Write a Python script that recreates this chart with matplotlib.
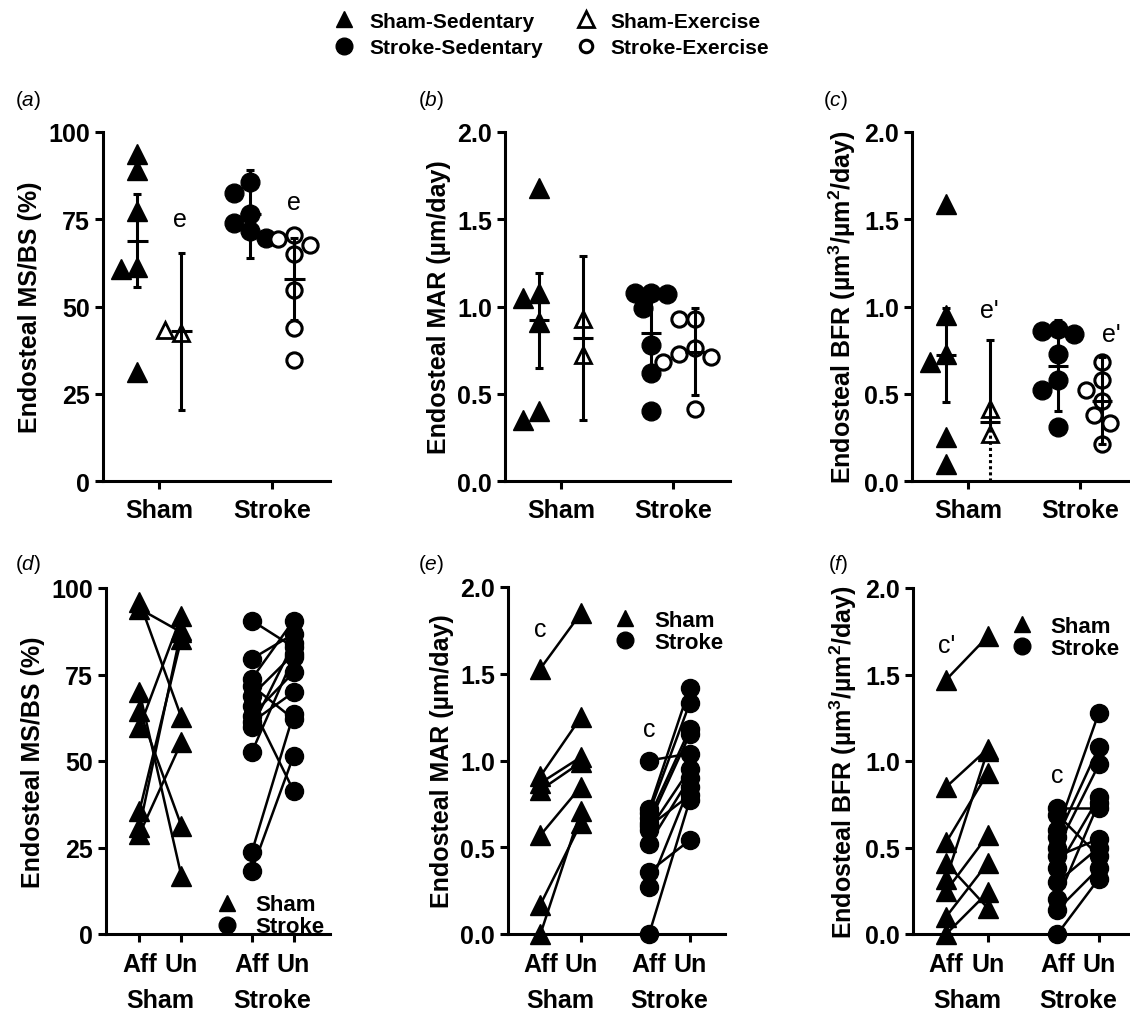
import matplotlib
matplotlib.use('Agg')
import matplotlib.pyplot as plt
from matplotlib.lines import Line2D
from matplotlib.font_manager import FontProperties
import numpy as np

plt.rcParams['font.family'] = ['Liberation Sans', 'DejaVu Sans']
plt.rcParams['mathtext.fontset'] = 'custom'
plt.rcParams['mathtext.rm'] = 'Liberation Sans'
plt.rcParams['mathtext.it'] = 'Liberation Sans:italic'
plt.rcParams['mathtext.bf'] = 'Liberation Sans:bold'
plt.rcParams['mathtext.default'] = 'regular'

# ---------------- data ----------------
group_labels = ['Sham', 'Stroke']
side_labels = ['Aff', 'Un', 'Aff', 'Un']
legend_labels = ['Sham-Sedentary', 'Stroke-Sedentary', 'Sham-Exercise', 'Stroke-Exercise']

# (a) Endosteal MS/BS (%)
a_sham_sed = [93.8, 89.0, 77.5, 61.2, 60.8, 31.1]
a_sham_ex = [42.5, 43.3]
a_stroke_sed = [85.8, 82.6, 76.5, 74.0, 71.5, 69.5]
a_stroke_ex = [70.6, 69.2, 67.5, 64.9, 54.7, 43.7, 34.7]
a_means = [68.9, 42.9, 76.4, 57.9]      # sham-sed, sham-ex, stroke-sed, stroke-ex
a_errs = [13.2, 22.5, 12.6, 11.7]

# (b) Endosteal MAR (um/day)
b_sham_sed = [1.68, 1.08, 1.05, 0.91, 0.40, 0.35]
b_sham_ex = [0.93, 0.72]
b_stroke_sed = [1.08, 1.08, 1.07, 0.99, 0.78, 0.62, 0.40]
b_stroke_ex = [0.93, 0.93, 0.76, 0.73, 0.71, 0.68, 0.41]
b_means = [0.92, 0.82, 0.85, 0.74]
b_errs = [0.27, 0.47, 0.25, 0.25]

# (c) Endosteal BFR
c_sham_sed = [1.59, 0.95, 0.73, 0.68, 0.25, 0.10]
c_sham_ex = [0.27, 0.41]
c_stroke_sed = [0.87, 0.86, 0.84, 0.73, 0.58, 0.52, 0.31]
c_stroke_ex = [0.68, 0.58, 0.52, 0.46, 0.38, 0.33, 0.21]
c_means = [0.72, 0.34, 0.66, 0.46]
c_errs = [0.27, 0.47, 0.26, 0.25]

# (d) MS/BS paired, affected vs unaffected
d_sham_aff = [96.0, 94.0, 70.0, 64.5, 59.7, 35.6, 30.8, 28.9]
d_sham_un = [62.6, 87.2, 16.8, 31.3, 92.0, 85.3, 88.0, 55.4]
d_stroke_aff = [90.6, 79.5, 73.7, 71.8, 68.9, 66.0, 63.1, 61.2, 59.7, 52.5, 23.6, 18.3]
d_stroke_un = [82.9, 86.7, 90.6, 62.1, 80.9, 41.4, 75.6, 69.9, 84.0, 80.0, 63.6, 51.5]

# (e) MAR paired
e_sham_aff = [1.53, 0.91, 0.87, 0.83, 0.57, 0.17, 0.00]
e_sham_un = [1.85, 1.25, 1.02, 0.99, 0.85, 0.64, 0.71]
e_stroke_aff = [1.00, 0.72, 0.70, 0.67, 0.64, 0.62, 0.60, 0.52, 0.36, 0.27, 0.00]
e_stroke_un = [1.04, 1.42, 1.33, 1.18, 1.15, 0.80, 0.95, 0.90, 0.54, 0.85, 0.77]

# (f) BFR paired
f_sham_aff = [1.47, 0.85, 0.53, 0.41, 0.32, 0.25, 0.10, 0.00]
f_sham_un = [1.72, 1.07, 0.93, 0.15, 1.06, 0.57, 0.41, 0.24]
f_stroke_aff = [0.73, 0.69, 0.60, 0.56, 0.50, 0.45, 0.38, 0.30, 0.20, 0.14, 0.00]
f_stroke_un = [0.73, 0.45, 1.28, 1.08, 0.98, 0.55, 0.79, 0.50, 0.76, 0.38, 0.32]

# ---------------- layout ----------------
W, H = 1130, 1012
fig = plt.figure(figsize=(W / 100, H / 100), dpi=100)

def add_ax(l, r, t, b):
    return fig.add_axes([l / W, 1 - b / H, (r - l) / W, (b - t) / H])

LW = 2.2
TICKFS = 18
LABFS = 18

def style_axes(ax):
    for s in ['top', 'right']:
        ax.spines[s].set_visible(False)
    for s in ['left', 'bottom']:
        ax.spines[s].set_linewidth(LW)
    ax.tick_params(width=LW, length=6, labelsize=TICKFS, direction='out')
    for lab in ax.get_xticklabels() + ax.get_yticklabels():
        lab.set_fontweight('bold')

def swarm(vals, center, ppu_y, ppu_x, diam=16.0, step=8.0):
    placed = []
    xs = []
    cands = [0.0]
    for i in range(1, 8):
        cands += [-i * step, i * step]
    for v in vals:
        y = v * ppu_y
        chosen = cands[-1]
        for c in cands:
            if all((c - px) ** 2 + (y - py) ** 2 >= diam ** 2 for px, py in placed):
                chosen = c
                break
        placed.append((chosen, y))
        xs.append(center + chosen / ppu_x)
    return xs

def errbar(ax, x, m, e, ymin, half=0.09, cap=0.035):
    kw = dict(color='black', lw=LW, zorder=5, clip_on=False, solid_capstyle='butt')
    ax.plot([x - half, x + half], [m, m], **kw)
    ax.plot([x, x], [m, m + e], **kw)
    ax.plot([x - cap, x + cap], [m + e, m + e], **kw)
    lo = m - e
    if lo < ymin:
        ax.plot([x, x], [ymin, m], color='black', lw=LW, ls=(0, (1, 1)), zorder=5, clip_on=False)
    else:
        ax.plot([x, x], [lo, m], **kw)
        ax.plot([x - cap, x + cap], [lo, lo], **kw)

def top_panel(ax, sham_sed, sham_ex, stroke_sed, stroke_ex, means, errs, ymax, yticks, ytl, ylabel, axh_px, axw_px):
    ax.set_xlim(0.5, 2.51)
    ax.set_ylim(0, ymax)
    ppu_y = axh_px / ymax
    ppu_x = axw_px / 2.01
    off = 0.195
    sets = [(sham_sed, 1 - off, '^', 'black', 14, 1.0),
            (sham_ex, 1 + off, '^', 'white', 12, 2.0),
            (stroke_sed, 2 - off, 'o', 'black', 13.5, 1.0),
            (stroke_ex, 2 + off, 'o', 'white', 11, 2.2)]
    for (vals, cx, mk, fc, ms, mew), m, e in zip(sets, means, errs):
        xs = swarm(vals, cx, ppu_y, ppu_x)
        ax.plot(xs, vals, ls='none', marker=mk, ms=ms, mfc=fc, mec='black', mew=mew,
                clip_on=False, zorder=3)
        errbar(ax, cx, m, e, 0)
    ax.set_xticks([1, 2])
    ax.set_xticklabels(group_labels)
    ax.set_yticks(yticks)
    ax.set_yticklabels(ytl)
    ax.set_ylabel(ylabel, fontsize=LABFS, fontweight='bold', labelpad=4)
    style_axes(ax)
    ax.tick_params(axis='x', pad=6)

pos4 = [1.0, 2.0, 3.68, 4.68]

def bottom_panel(ax, sham_aff, sham_un, stroke_aff, stroke_un, ymax, yticks, ytl, ylabel):
    ax.set_xlim(0.2, 5.55)
    ax.set_ylim(0, ymax)
    for a, u in zip(sham_aff, sham_un):
        ax.plot([pos4[0], pos4[1]], [a, u], color='black', lw=1.8, zorder=2, clip_on=False)
    for a, u in zip(stroke_aff, stroke_un):
        ax.plot([pos4[2], pos4[3]], [a, u], color='black', lw=1.8, zorder=2, clip_on=False)
    ax.plot([pos4[0]] * len(sham_aff), sham_aff, ls='none', marker='^', ms=14, color='black', clip_on=False, zorder=3)
    ax.plot([pos4[1]] * len(sham_un), sham_un, ls='none', marker='^', ms=14, color='black', clip_on=False, zorder=3)
    ax.plot([pos4[2]] * len(stroke_aff), stroke_aff, ls='none', marker='o', ms=13, color='black', clip_on=False, zorder=3)
    ax.plot([pos4[3]] * len(stroke_un), stroke_un, ls='none', marker='o', ms=13, color='black', clip_on=False, zorder=3)
    ax.set_xticks(pos4)
    ax.set_xticklabels(side_labels)
    ax.set_yticks(yticks)
    ax.set_yticklabels(ytl)
    ax.set_ylabel(ylabel, fontsize=LABFS, fontweight='bold', labelpad=4)
    style_axes(ax)
    ax.tick_params(axis='x', pad=7)
    for gx, lab in zip([(pos4[0] + pos4[1]) / 2, (pos4[2] + pos4[3]) / 2], group_labels):
        ax.text(gx, -0.19, lab, transform=ax.get_xaxis_transform(), ha='center', va='center',
                fontsize=TICKFS, fontweight='bold')

def small_legend(ax, anchor, loc):
    h = [Line2D([], [], ls='none', marker='^', ms=12, color='black'),
         Line2D([], [], ls='none', marker='o', ms=12, color='black')]
    ax.legend(h, group_labels, loc=loc, bbox_to_anchor=anchor, frameon=False,
              prop=FontProperties(family='Liberation Sans', weight='bold', size=16),
              handlelength=0.8, handletextpad=0.9, labelspacing=0.05, borderpad=0, borderaxespad=0)

# top row
axa = add_ax(103, 330, 133, 482)
top_panel(axa, a_sham_sed, a_sham_ex, a_stroke_sed, a_stroke_ex, a_means, a_errs, 100,
          [0, 25, 50, 75, 100], ['0', '25', '50', '75', '100'], 'Endosteal MS/BS (%)', 349, 227)
axa.text(1.18, 75, 'e', ha='center', va='center', fontsize=18)
axa.text(2.19, 80, 'e', ha='center', va='center', fontsize=18)

ticks2 = [0, 0.5, 1.0, 1.5, 2.0]
tl2 = ['0.0', '0.5', '1.0', '1.5', '2.0']
axb = add_ax(505, 730, 133, 482)
top_panel(axb, b_sham_sed, b_sham_ex, b_stroke_sed, b_stroke_ex, b_means, b_errs, 2.0,
          ticks2, tl2, 'Endosteal MAR (µm/day)', 349, 225)

axc = add_ax(912, 1137, 133, 482)
top_panel(axc, c_sham_sed, c_sham_ex, c_stroke_sed, c_stroke_ex, c_means, c_errs, 2.0,
          ticks2, tl2, 'Endosteal BFR (µm$^3$/µm$^2$/day)', 349, 225)
axc.text(1.19, 0.98, "e'", ha='center', va='center', fontsize=18)
axc.text(2.28, 0.84, "e'", ha='center', va='center', fontsize=18)

# bottom row
axd = add_ax(106, 330, 589, 935)
bottom_panel(axd, d_sham_aff, d_sham_un, d_stroke_aff, d_stroke_un, 100,
             [0, 25, 50, 75, 100], ['0', '25', '50', '75', '100'], 'Endosteal MS/BS (%)')
small_legend(axd, (0.50, -0.01), 'lower left')

axe = add_ax(508, 725, 588, 935)
bottom_panel(axe, e_sham_aff, e_sham_un, e_stroke_aff, e_stroke_un, 2.0, ticks2, tl2,
             'Endosteal MAR (µm/day)')
small_legend(axe, (0.50, 0.935), 'upper left')
axe.text(pos4[0], 1.76, 'c', ha='center', va='center', fontsize=18)
axe.text(pos4[2], 1.18, 'c', ha='center', va='center', fontsize=18)

axf = add_ax(913, 1135, 589, 935)
bottom_panel(axf, f_sham_aff, f_sham_un, f_stroke_aff, f_stroke_un, 2.0, ticks2, tl2,
             'Endosteal BFR (µm$^3$/µm$^2$/day)')
small_legend(axf, (0.45, 0.92), 'upper left')
axf.text(pos4[0], 1.67, "c'", ha='center', va='center', fontsize=18)
axf.text(pos4[2], 0.92, 'c', ha='center', va='center', fontsize=18)

# panel letters
for (px, py), letter in zip([(15, 100), (418, 100), (823, 100), (15, 565), (418, 565), (828, 565)],
                            'abcdef'):
    fig.text(px / W, 1 - py / H, '($\\mathit{%s}$)' % letter, fontsize=15, ha='left', va='center')

# top legend
handles = [Line2D([], [], ls='none', marker='^', ms=12, mfc='black', mec='black'),
           Line2D([], [], ls='none', marker='o', ms=12, mfc='black', mec='black'),
           Line2D([], [], ls='none', marker='^', ms=11, mfc='white', mec='black', mew=2),
           Line2D([], [], ls='none', marker='o', ms=9, mfc='white', mec='black', mew=2.2)]
fig.legend(handles, legend_labels, loc='upper center', bbox_to_anchor=(0.488, 1.006), ncol=2,
           frameon=False, prop=FontProperties(family='Liberation Sans', weight='bold', size=15),
           handlelength=1.0, handletextpad=0.7, columnspacing=1.55, labelspacing=0.35)

fig.savefig('out.png', dpi=100)
